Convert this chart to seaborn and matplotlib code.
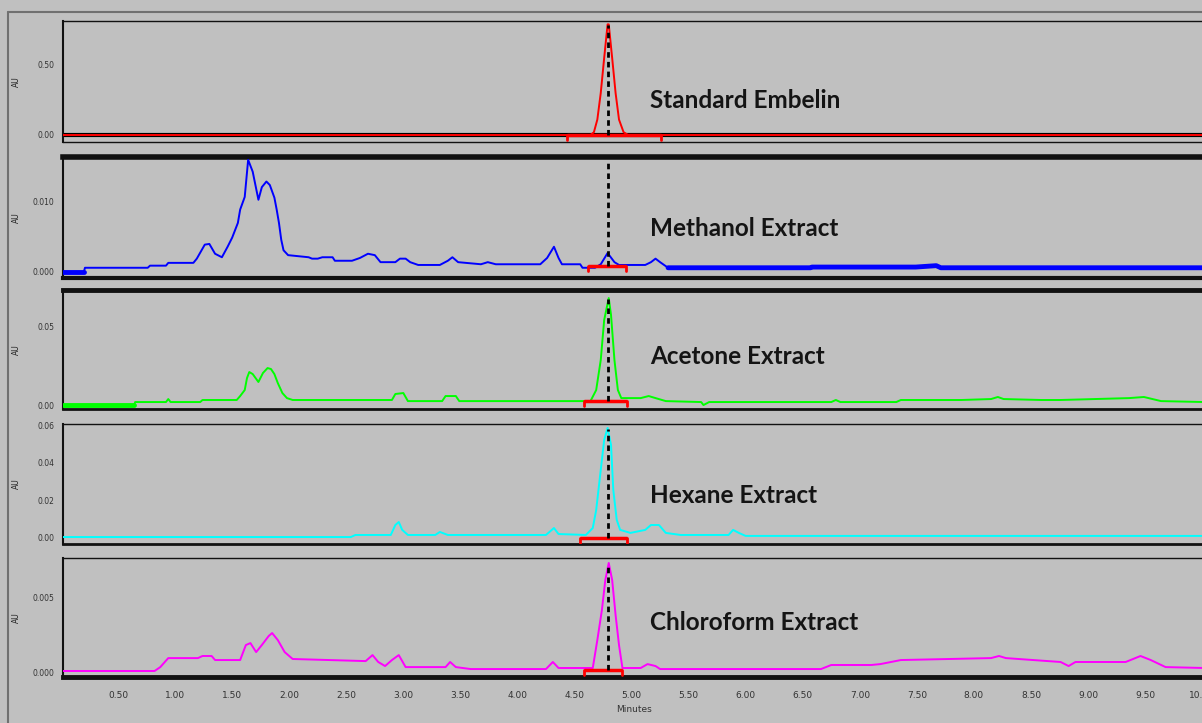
import matplotlib
matplotlib.use("Agg")
import matplotlib.pyplot as plt
import matplotlib.lines as mlines
import seaborn as sns
import pandas as pd
import numpy as np

# ---------------- data ----------------
panel_names = ["Standard Embelin", "Methanol Extract", "Acetone Extract",
               "Hexane Extract", "Chloroform Extract"]
panel_colors = ["#ff0000", "#0000ff", "#00ff00", "#00ffff", "#ff00ff"]

std_t = [0.02, 4.64, 4.67, 4.70, 4.73, 4.76, 4.79, 4.80, 4.83, 4.86, 4.89, 4.93, 4.97, 10.02]
std_v = [0.0, 0.0, 0.02, 0.11, 0.30, 0.55, 0.79, 0.79, 0.55, 0.30, 0.11, 0.02, 0.0, 0.0]

meth_t = [0.02, 0.20, 0.21, 0.76, 0.78, 0.92, 0.94, 1.16, 1.19, 1.26, 1.30, 1.35, 1.41, 1.46,
          1.50, 1.55, 1.57, 1.61, 1.64, 1.68, 1.70, 1.73, 1.76, 1.80, 1.83, 1.87, 1.89, 1.91,
          1.93, 1.95, 1.99, 2.17, 2.20, 2.25, 2.29, 2.38, 2.40, 2.55, 2.62, 2.69, 2.75, 2.80,
          2.93, 2.97, 3.02, 3.06, 3.13, 3.32, 3.39, 3.43, 3.48, 3.68, 3.74, 3.81, 4.20, 4.26,
          4.32, 4.36, 4.39, 4.55, 4.57, 4.68, 4.73, 4.79, 4.85, 4.89, 5.12, 5.17, 5.21, 5.25,
          5.32, 6.57, 6.58, 7.49, 7.67, 7.71, 10.02]
meth_v = [0.0, 0.0, 0.0006, 0.0006, 0.0009, 0.0009, 0.0013, 0.0013, 0.0019, 0.0039, 0.0040,
          0.0026, 0.0021, 0.0036, 0.0049, 0.0070, 0.0089, 0.0107, 0.0160, 0.0143, 0.0127,
          0.0103, 0.0121, 0.0129, 0.0124, 0.0106, 0.0089, 0.0070, 0.0046, 0.0031, 0.0024,
          0.0021, 0.0019, 0.0019, 0.0021, 0.0021, 0.0016, 0.0016, 0.0020, 0.0026, 0.0024,
          0.0014, 0.0014, 0.0019, 0.0019, 0.0014, 0.0010, 0.0010, 0.0016, 0.0021, 0.0014,
          0.0011, 0.0014, 0.0011, 0.0011, 0.0020, 0.0036, 0.0020, 0.0011, 0.0011, 0.0006,
          0.0006, 0.0011, 0.0027, 0.0014, 0.0010, 0.0010, 0.0014, 0.0019, 0.0014, 0.0006,
          0.0006, 0.0007, 0.0007, 0.0009, 0.0006, 0.0006]

acet_t = [0.02, 0.64, 0.65, 0.92, 0.94, 0.96, 1.22, 1.24, 1.54, 1.57, 1.61, 1.63, 1.65, 1.68,
          1.73, 1.77, 1.81, 1.84, 1.87, 1.90, 1.94, 1.98, 2.03, 2.90, 2.93, 3.00, 3.04, 3.34,
          3.37, 3.46, 3.49, 4.64, 4.69, 4.73, 4.76, 4.80, 4.82, 4.85, 4.88, 4.91, 5.08, 5.15,
          5.21, 5.30, 5.61, 5.63, 5.68, 6.75, 6.79, 6.83, 7.32, 7.36, 7.89, 8.15, 8.21, 8.26,
          8.59, 8.76, 9.36, 9.49, 9.64, 10.02]
acet_v = [0.0, 0.0, 0.0019, 0.0019, 0.0038, 0.0019, 0.0019, 0.0032, 0.0032, 0.0057, 0.0095,
          0.0171, 0.0209, 0.0196, 0.0146, 0.0203, 0.0234, 0.0228, 0.0196, 0.0139, 0.0076,
          0.0044, 0.0032, 0.0032, 0.0070, 0.0076, 0.0025, 0.0025, 0.0057, 0.0057, 0.0025,
          0.0025, 0.0095, 0.0285, 0.0538, 0.0677, 0.0570, 0.0285, 0.0095, 0.0044, 0.0044,
          0.0057, 0.0044, 0.0025, 0.0019, 0.0, 0.0019, 0.0019, 0.0032, 0.0019, 0.0019,
          0.0032, 0.0032, 0.0038, 0.0051, 0.0038, 0.0032, 0.0032, 0.0044, 0.0051, 0.0025,
          0.0019]

hex_t = [0.02, 2.54, 2.58, 2.89, 2.93, 2.96, 2.99, 3.04, 3.28, 3.32, 3.39, 4.25, 4.29, 4.32,
         4.36, 4.60, 4.66, 4.69, 4.73, 4.76, 4.79, 4.82, 4.84, 4.87, 4.90, 4.99, 5.12, 5.17,
         5.24, 5.30, 5.43, 5.85, 5.89, 5.94, 6.00, 10.02]
hex_v = [0.0005, 0.0005, 0.0016, 0.0016, 0.0069, 0.0085, 0.0043, 0.0016, 0.0016, 0.0032,
         0.0016, 0.0016, 0.0037, 0.0053, 0.0021, 0.0016, 0.0053, 0.0149, 0.0362, 0.0521,
         0.0585, 0.0495, 0.0255, 0.0096, 0.0043, 0.0027, 0.0043, 0.0069, 0.0069, 0.0027,
         0.0016, 0.0016, 0.0043, 0.0027, 0.0011, 0.0011]

chl_t = [0.02, 0.82, 0.87, 0.94, 1.20, 1.24, 1.32, 1.35, 1.57, 1.62, 1.66, 1.71, 1.76, 1.82,
         1.85, 1.90, 1.96, 2.03, 2.67, 2.73, 2.78, 2.84, 2.90, 2.96, 3.02, 3.37, 3.41, 3.46,
         3.59, 4.25, 4.31, 4.36, 4.66, 4.70, 4.74, 4.77, 4.80, 4.83, 4.86, 4.89, 4.92, 5.08,
         5.14, 5.21, 5.25, 6.66, 6.75, 7.10, 7.18, 7.36, 8.15, 8.22, 8.28, 8.76, 8.83, 8.89,
         9.33, 9.46, 9.55, 9.68, 10.02]
chl_v = [0.00007, 0.00007, 0.00033, 0.00093, 0.00093, 0.00107, 0.00107, 0.00080, 0.00080,
         0.00180, 0.00193, 0.00133, 0.00180, 0.00240, 0.00260, 0.00213, 0.00133, 0.00087,
         0.00073, 0.00113, 0.00067, 0.00040, 0.00080, 0.00113, 0.00033, 0.00033, 0.00067,
         0.00033, 0.00020, 0.00020, 0.00067, 0.00027, 0.00027, 0.00213, 0.00413, 0.00613,
         0.00727, 0.00613, 0.00380, 0.00180, 0.00027, 0.00027, 0.00053, 0.00040, 0.00020,
         0.00020, 0.00047, 0.00047, 0.00053, 0.00080, 0.00093, 0.00107, 0.00093, 0.00067,
         0.00040, 0.00067, 0.00067, 0.00107, 0.00080, 0.00033, 0.00027]

series_t = [std_t, meth_t, acet_t, hex_t, chl_t]
series_v = [std_v, meth_v, acet_v, hex_v, chl_v]

# integration marks (start, end, baseline level) and retention-time marker
int_start = [4.43, 4.62, 4.58, 4.55, 4.58]
int_end = [5.26, 4.95, 4.96, 4.96, 4.92]
int_level = [0.0, 0.0009, 0.0025, 0.0, 0.00013]
rt_embelin = 4.79

y_ticks = [[0.0, 0.5], [0.0, 0.010], [0.0, 0.05], [0.0, 0.02, 0.04, 0.06], [0.0, 0.005]]
y_fmt = ["{:.2f}", "{:.3f}", "{:.2f}", "{:.2f}", "{:.3f}"]
y_lims = [(-0.05, 0.814), (-0.00086, 0.0164), (-0.0025, 0.0728), (-0.0032, 0.0606),
          (-0.00033, 0.0076)]
x_major = [0.5 * k for k in range(1, 21)]
x_label = "Minutes"
y_label = "AU"

# ---------------- drawing ----------------
sns.set_theme(style="white")
BG = "#c0c0c0"
plt.rcParams["font.family"] = ["DejaVu Sans"]

W, H = 1202, 723
fig = plt.figure(figsize=(W / 100, H / 100), dpi=100, facecolor=BG)

# panel boxes in pixels (top, bottom)
boxes = [(21, 142), (157, 278), (290, 409), (424, 544), (558, 677)]
left_px = 63
top_w = [1.0, 4.0, 3.5, 1.0, 1.0]
bot_w = [1.0, 3.0, 2.0, 2.0, 3.5]
text_y = [0.339, 0.413, 0.445, 0.408, 0.462]

axes = []
for i, (tp, bt) in enumerate(boxes):
    ax = fig.add_axes([left_px / W, 1 - bt / H, 1 - left_px / W + 0.002, (bt - tp) / H])
    ax.set_facecolor(BG)
    df = pd.DataFrame({"t": series_t[i], "v": series_v[i]})
    sns.lineplot(data=df, x="t", y="v", ax=ax, color=panel_colors[i], lw=1.4,
                 estimator=None, sort=False, zorder=3)
    if i == 1:
        # flat detector baseline drawn heavier, as in the instrument printout
        flat = df[(df.t >= 5.32) | (df.t <= 0.20)]
        for part in (flat[flat.t <= 0.20], flat[flat.t >= 5.32]):
            sns.lineplot(data=part, x="t", y="v", ax=ax, color=panel_colors[i], lw=3.5,
                         estimator=None, sort=False, zorder=3)
    if i == 2:
        part = df[df.t <= 0.64]
        sns.lineplot(data=part, x="t", y="v", ax=ax, color=panel_colors[i], lw=3.5,
                     estimator=None, sort=False, zorder=3)
    ax.set_xlim(0.0175, 10.02)
    ax.set_ylim(*y_lims[i])
    ax.set_yticks(y_ticks[i])
    ax.set_yticklabels([y_fmt[i].format(v) for v in y_ticks[i]], fontsize=5.5)
    ax.tick_params(axis="y", direction="out", length=3, width=1.5, pad=3, colors="black",
                   labelcolor="#333333")
    ax.set_ylabel(y_label, fontsize=5.5, labelpad=6, color="#222222")
    ax.yaxis.set_label_coords(-0.037, 0.5)
    for s in ["left", "top", "bottom"]:
        ax.spines[s].set_visible(True)
        ax.spines[s].set_color("#111111")
    ax.spines["right"].set_visible(False)
    ax.spines["left"].set_linewidth(1.5)
    ax.spines["top"].set_linewidth(top_w[i])
    ax.spines["bottom"].set_linewidth(bot_w[i])
    # integration marks
    ax.plot([int_start[i], int_end[i]], [int_level[i], int_level[i]], color="#ff0000",
            lw=2.5, zorder=4, solid_capstyle="butt")
    dy = (y_lims[i][1] - y_lims[i][0]) * 0.045
    for xe in (int_start[i], int_end[i]):
        ax.plot([xe, xe], [int_level[i], int_level[i] - dy], color="#ff0000", lw=2, zorder=4)
    # retention-time marker
    top_v = max(series_v[i]) * 0.99
    ax.plot([rt_embelin, rt_embelin], [int_level[i], top_v], color="black", lw=2.0,
            ls=(0, (2, 1.5)), zorder=5)
    ax.text(0.5145, text_y[i], panel_names[i], transform=ax.transAxes, fontsize=17.5,
            fontweight="bold", family=["Lato", "DejaVu Sans"], color="#141414",
            va="center", ha="left")
    if i < 4:
        ax.set_xticks([])
        ax.set_xlabel("")
    axes.append(ax)

# black zero line in the standard panel
axes[0].axhline(0.0, color="black", lw=3, zorder=2)

# bottom axis
axb = axes[-1]
axb.set_xticks(x_major)
axb.set_xticks([0.1 * k for k in range(1, 101) if k % 5 != 0], minor=True)
axb.set_xticklabels([f"{v:.2f}" for v in x_major], fontsize=6.5, color="#333333")
axb.tick_params(axis="x", which="major", direction="out", length=5, width=1.5, pad=5)
axb.tick_params(axis="x", which="minor", direction="out", length=3, width=1.2)
axb.set_xlabel(x_label, fontsize=6.5, color="#333333", labelpad=4)

# outer frame of the instrument report
fig.add_artist(mlines.Line2D([8 / W, 8 / W], [0, 1 - 12 / H], color="#707070", lw=1.5))
fig.add_artist(mlines.Line2D([8 / W, 1], [1 - 12 / H, 1 - 12 / H], color="#707070", lw=1.5))

fig.savefig("out.png", dpi=100, facecolor=BG)
